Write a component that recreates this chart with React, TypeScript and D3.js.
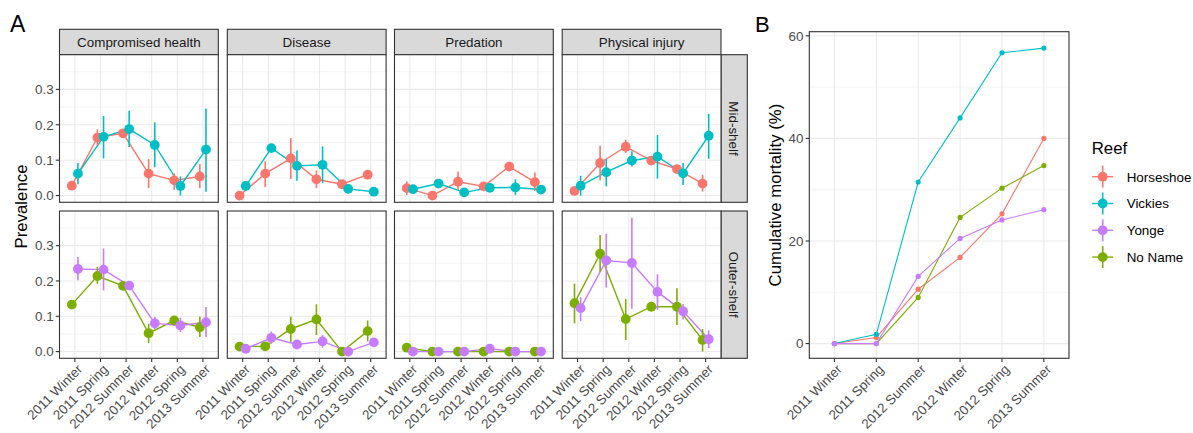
import * as d3 from "d3";

// categories
const seasons = ["2011 Winter", "2011 Spring", "2012 Summer", "2012 Winter", "2012 Spring", "2013 Summer"];
const causes = ["Compromised health", "Disease", "Predation", "Physical injury"];
const shelves = ["Mid-shelf", "Outer-shelf"];
const reefs = ["Horseshoe", "Vickies", "Yonge", "No Name"];

// prevalence (per cause, per season), with error bar limits
const horseshoeMean = [
  [0.028, 0.164, 0.176, 0.062, 0.043, 0.054],
  [0.0, 0.062, 0.105, 0.046, 0.032, 0.059],
  [0.021, 0.0, 0.039, 0.026, 0.082, 0.038],
  [0.013, 0.092, 0.138, 0.099, 0.075, 0.034],
];
const horseshoeLow = [
  [0.028, 0.142, 0.163, 0.021, 0.016, 0.021],
  [0.0, 0.024, 0.047, 0.021, 0.025, 0.059],
  [0.002, 0.0, 0.016, 0.026, 0.082, 0.013],
  [0.013, 0.043, 0.12, 0.099, 0.068, 0.011],
];
const horseshoeHigh = [
  [0.028, 0.187, 0.187, 0.103, 0.063, 0.089],
  [0.0, 0.097, 0.163, 0.071, 0.04, 0.059],
  [0.04, 0.0, 0.068, 0.026, 0.082, 0.065],
  [0.013, 0.141, 0.158, 0.099, 0.082, 0.059],
];

const vickiesMean = [
  [0.062, 0.166, 0.188, 0.143, 0.027, 0.13],
  [0.027, 0.134, 0.084, 0.087, 0.019, 0.011],
  [0.018, 0.034, 0.009, 0.022, 0.023, 0.017],
  [0.028, 0.066, 0.099, 0.11, 0.063, 0.169],
];
const vickiesLow = [
  [0.032, 0.105, 0.137, 0.08, 0.0, 0.011],
  [0.027, 0.134, 0.042, 0.035, 0.019, 0.011],
  [0.008, 0.034, 0.009, 0.022, 0.002, 0.017],
  [0.0, 0.026, 0.082, 0.048, 0.03, 0.104],
];
const vickiesHigh = [
  [0.092, 0.225, 0.24, 0.207, 0.054, 0.246],
  [0.027, 0.134, 0.127, 0.139, 0.019, 0.011],
  [0.028, 0.034, 0.009, 0.022, 0.046, 0.017],
  [0.056, 0.103, 0.125, 0.171, 0.092, 0.231],
];

const yongeMean = [
  [0.234, 0.232, 0.187, 0.08, 0.074, 0.083],
  [0.008, 0.039, 0.02, 0.029, 0.0, 0.026],
  [0.0, 0.0, 0.0, 0.008, 0.0, 0.0],
  [0.123, 0.258, 0.251, 0.169, 0.114, 0.035],
];
const yongeLow = [
  [0.202, 0.173, 0.187, 0.064, 0.055, 0.041],
  [0.008, 0.022, 0.02, 0.011, 0.0, 0.026],
  [0.0, 0.0, 0.0, 0.008, 0.0, 0.0],
  [0.086, 0.181, 0.121, 0.118, 0.091, 0.01],
];
const yongeHigh = [
  [0.268, 0.292, 0.187, 0.098, 0.096, 0.126],
  [0.008, 0.057, 0.02, 0.047, 0.0, 0.026],
  [0.0, 0.0, 0.0, 0.008, 0.0, 0.0],
  [0.154, 0.334, 0.379, 0.219, 0.135, 0.06],
];

const noNameMean = [
  [0.133, 0.214, 0.186, 0.052, 0.088, 0.069],
  [0.014, 0.015, 0.064, 0.091, 0.0, 0.058],
  [0.011, 0.0, 0.0, 0.0, 0.0, 0.0],
  [0.137, 0.277, 0.092, 0.127, 0.127, 0.033],
];
const noNameLow = [
  [0.133, 0.192, 0.186, 0.024, 0.088, 0.041],
  [0.014, 0.015, 0.028, 0.047, 0.0, 0.029],
  [0.011, 0.0, 0.0, 0.0, 0.0, 0.0],
  [0.08, 0.225, 0.033, 0.127, 0.075, 0.0],
];
const noNameHigh = [
  [0.133, 0.24, 0.186, 0.079, 0.088, 0.099],
  [0.014, 0.015, 0.099, 0.134, 0.0, 0.088],
  [0.011, 0.0, 0.0, 0.0, 0.0, 0.0],
  [0.192, 0.33, 0.149, 0.127, 0.179, 0.064],
];

// cumulative mortality (%)
const horseshoeMortality = [0, 1.2, 10.6, 16.8, 25.3, 40.0];
const vickiesMortality = [0, 1.8, 31.5, 44.0, 56.7, 57.6];
const yongeMortality = [0, 0, 13.1, 20.5, 24.1, 26.1];
const noNameMortality = [0, 0, 9.0, 24.6, 30.3, 34.7];

const prevTicks = [0, 0.1, 0.2, 0.3];
const prevMinor = [0.05, 0.15, 0.25, 0.35];
const mortTicks = [0, 20, 40, 60];
const mortMinor = [10, 30, 50];

const colors: Record<string, string> = {
  Horseshoe: "#F8766D",
  Vickies: "#00BFC4",
  Yonge: "#C77CFF",
  "No Name": "#7CAE00",
};

const rowSeries = [
  [
    { reef: "Horseshoe", mean: horseshoeMean, low: horseshoeLow, high: horseshoeHigh, dodge: -1 },
    { reef: "Vickies", mean: vickiesMean, low: vickiesLow, high: vickiesHigh, dodge: 1 },
  ],
  [
    { reef: "No Name", mean: noNameMean, low: noNameLow, high: noNameHigh, dodge: -1 },
    { reef: "Yonge", mean: yongeMean, low: yongeLow, high: yongeHigh, dodge: 1 },
  ],
];

const mortSeries = [
  { reef: "Horseshoe", values: horseshoeMortality },
  { reef: "Vickies", values: vickiesMortality },
  { reef: "No Name", values: noNameMortality },
  { reef: "Yonge", values: yongeMortality },
];

const FONT = "'Liberation Sans', Arial, Helvetica, sans-serif";
const GRID = "#EBEBEB";
const DARK = "#333333";
const TXT = "#4D4D4D";
const SMALL = 13.4; // axis text, strips, legend text
const BASE = 16.8; // axis titles, legend title

// layout of panel A
const colLeft = [59.5, 227.3, 394.5, 562.2];
const panelW = 158.8;
const stripTop = 29.3;
const stripBottom = 54.7;
const rowTop = [54.7, 211];
const rowBottom = [202.3, 358.3];
const rightStrip = [721, 747.3];

// layout of panel B
const bLeft = 809.3;
const bRight = 1069;
const bTop = 31.7;
const bBottom = 358.3;

function TickLabels({ x, y0 }: { x: d3.ScalePoint<string>; y0: number }) {
  return (
    <g>
      {seasons.map((s) => (
        <g key={s}>
          <line x1={x(s)} x2={x(s)} y1={y0} y2={y0 + 3.7} stroke={DARK} strokeWidth={1.1} />
          <text
            transform={`translate(${x(s)! + 1.5},${y0 + 5})` + " rotate(-45)"}
            textAnchor="end"
            dy="0.72em"
            fontSize={SMALL}
            fill={TXT}
          >
            {s}
          </text>
        </g>
      ))}
    </g>
  );
}

function Facet({ row, col }: { row: number; col: number }) {
  const x = d3.scalePoint<string>().domain(seasons).range([colLeft[col], colLeft[col] + panelW]).padding(0.6);
  const y = d3.scaleLinear().domain([-0.019, 0.398]).range([rowBottom[row], rowTop[row]]);
  const off = x.step() * 0.12;
  const series = rowSeries[row];
  const line = d3
    .line<number>()
    .x((_, i) => x(seasons[i])!)
    .y((d) => y(d));
  return (
    <g>
      <rect x={colLeft[col]} y={rowTop[row]} width={panelW} height={rowBottom[row] - rowTop[row]} fill="white" />
      {prevMinor.map((t) => (
        <line key={t} x1={colLeft[col]} x2={colLeft[col] + panelW} y1={y(t)} y2={y(t)} stroke={GRID} strokeWidth={0.55} />
      ))}
      {prevTicks.map((t) => (
        <line key={t} x1={colLeft[col]} x2={colLeft[col] + panelW} y1={y(t)} y2={y(t)} stroke={GRID} strokeWidth={1.1} />
      ))}
      {seasons.map((s) => (
        <line key={s} x1={x(s)} x2={x(s)} y1={rowTop[row]} y2={rowBottom[row]} stroke={GRID} strokeWidth={1.1} />
      ))}
      {series.map((sr) => (
        <path
          key={sr.reef}
          transform={`translate(${sr.dodge * off},0)`}
          d={line(sr.mean[col])!}
          fill="none"
          stroke={colors[sr.reef]}
          strokeWidth={1.4}
        />
      ))}
      {series.map((sr) => (
        <g key={sr.reef} transform={`translate(${sr.dodge * off},0)`} fill={colors[sr.reef]} stroke={colors[sr.reef]}>
          {sr.mean[col].map((v, i) =>
            sr.high[col][i] > sr.low[col][i] ? (
              <line
                key={"e" + i}
                x1={x(seasons[i])}
                x2={x(seasons[i])}
                y1={y(sr.low[col][i])}
                y2={y(sr.high[col][i])}
                strokeWidth={1.6}
              />
            ) : null
          )}
          {sr.mean[col].map((v, i) => (
            <circle key={"p" + i} cx={x(seasons[i])} cy={y(v)} r={4.9} stroke="none" />
          ))}
        </g>
      ))}
      <rect
        x={colLeft[col]}
        y={rowTop[row]}
        width={panelW}
        height={rowBottom[row] - rowTop[row]}
        fill="none"
        stroke={DARK}
        strokeWidth={1.1}
      />
      {col === 0 &&
        prevTicks.map((t) => (
          <g key={t}>
            <line x1={colLeft[0] - 3.7} x2={colLeft[0]} y1={y(t)} y2={y(t)} stroke={DARK} strokeWidth={1.1} />
            <text x={colLeft[0] - 5.8} y={y(t)} dy="0.36em" textAnchor="end" fontSize={SMALL} fill={TXT}>
              {d3.format(".1f")(t)}
            </text>
          </g>
        ))}
      {row === 1 && <TickLabels x={x} y0={rowBottom[1]} />}
    </g>
  );
}

function PanelA() {
  return (
    <g>
      <text x={10} y={32} fontSize={23} fill="black">
        A
      </text>
      {causes.map((c, i) => (
        <g key={c}>
          <rect
            x={colLeft[i]}
            y={stripTop}
            width={panelW}
            height={stripBottom - stripTop}
            fill="#D9D9D9"
            stroke={DARK}
            strokeWidth={1.1}
          />
          <text
            x={colLeft[i] + panelW / 2}
            y={(stripTop + stripBottom) / 2}
            dy="0.36em"
            textAnchor="middle"
            fontSize={SMALL}
            fill="#1A1A1A"
          >
            {c}
          </text>
        </g>
      ))}
      {shelves.map((s, r) => (
        <g key={s}>
          <rect
            x={rightStrip[0]}
            y={rowTop[r]}
            width={rightStrip[1] - rightStrip[0]}
            height={rowBottom[r] - rowTop[r]}
            fill="#D9D9D9"
            stroke={DARK}
            strokeWidth={1.1}
          />
          <text
            transform={`translate(${(rightStrip[0] + rightStrip[1]) / 2},${(rowTop[r] + rowBottom[r]) / 2}) rotate(90)`}
            dy="0.36em"
            textAnchor="middle"
            fontSize={SMALL}
            fill="#1A1A1A"
          >
            {s}
          </text>
        </g>
      ))}
      {shelves.map((s, r) => causes.map((c, ci) => <Facet key={s + c} row={r} col={ci} />))}
      <text
        transform={`translate(21,${(rowTop[0] + rowBottom[1]) / 2}) rotate(-90)`}
        dy="0.36em"
        textAnchor="middle"
        fontSize={BASE}
        fill="black"
      >
        Prevalence
      </text>
    </g>
  );
}

function PanelB() {
  const x = d3.scalePoint<string>().domain(seasons).range([bLeft, bRight]).padding(0.6);
  const y = d3.scaleLinear().domain([-2.87, 60.8]).range([bBottom, bTop]);
  const line = d3
    .line<number>()
    .x((_, i) => x(seasons[i])!)
    .y((d) => y(d));
  return (
    <g>
      <text x={755} y={32} fontSize={22} fill="black">
        B
      </text>
      {mortMinor.map((t) => (
        <line key={t} x1={bLeft} x2={bRight} y1={y(t)} y2={y(t)} stroke={GRID} strokeWidth={0.55} />
      ))}
      {mortTicks.map((t) => (
        <line key={t} x1={bLeft} x2={bRight} y1={y(t)} y2={y(t)} stroke={GRID} strokeWidth={1.1} />
      ))}
      {seasons.map((s) => (
        <line key={s} x1={x(s)} x2={x(s)} y1={bTop} y2={bBottom} stroke={GRID} strokeWidth={1.1} />
      ))}
      {mortSeries.map((sr) => (
        <path key={sr.reef} d={line(sr.values)!} fill="none" stroke={colors[sr.reef]} strokeWidth={1.1} />
      ))}
      {mortSeries.map((sr) => (
        <g key={sr.reef} fill={colors[sr.reef]}>
          {sr.values.map((v, i) => (
            <circle key={i} cx={x(seasons[i])} cy={y(v)} r={2.6} />
          ))}
        </g>
      ))}
      <rect x={bLeft} y={bTop} width={bRight - bLeft} height={bBottom - bTop} fill="none" stroke={DARK} strokeWidth={1.1} />
      {mortTicks.map((t) => (
        <g key={t}>
          <line x1={bLeft - 3.7} x2={bLeft} y1={y(t)} y2={y(t)} stroke={DARK} strokeWidth={1.1} />
          <text x={bLeft - 5.8} y={y(t)} dy="0.36em" textAnchor="end" fontSize={SMALL} fill={TXT}>
            {t}
          </text>
        </g>
      ))}
      <TickLabels x={x} y0={bBottom} />
      <text
        transform={`translate(775,${(bTop + bBottom) / 2}) rotate(-90)`}
        dy="0.36em"
        textAnchor="middle"
        fontSize={BASE}
        fill="black"
      >
        Cumulative mortality (%)
      </text>
    </g>
  );
}

function Legend() {
  const x0 = 1091.7;
  const keyX = 1102.7;
  return (
    <g>
      <text x={x0} y={153.5} fontSize={BASE} fill="black">
        Reef
      </text>
      {reefs.map((r, i) => {
        const cy = 176.7 + i * 26.8;
        return (
          <g key={r} stroke={colors[r]} fill={colors[r]}>
            <line x1={keyX - 10.5} x2={keyX + 10.5} y1={cy} y2={cy} strokeWidth={1.4} />
            <line x1={keyX} x2={keyX} y1={cy - 11} y2={cy + 11} strokeWidth={1.6} />
            <circle cx={keyX} cy={cy} r={4.9} stroke="none" />
            <text x={1126.7} y={cy} dy="0.36em" fontSize={SMALL} fill="black" stroke="none">
              {r}
            </text>
          </g>
        );
      })}
    </g>
  );
}

export default function App() {
  return (
    <svg
      width={1193}
      height={433}
      viewBox="0 0 1193 433"
      style={{ position: "absolute", left: 0, top: 0, background: "white", fontFamily: FONT }}
    >
      <rect width={1193} height={433} fill="white" />
      <PanelA />
      <PanelB />
      <Legend />
    </svg>
  );
}
